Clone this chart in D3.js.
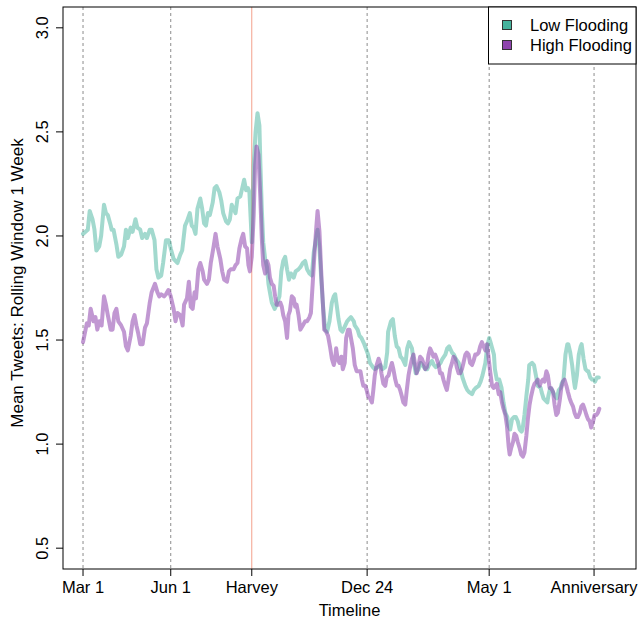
<!DOCTYPE html>
<html lang="en">
<head>
    <meta charset="UTF-8">
    <script src="https://cdn.jsdelivr.net/npm/d3@7"></script>
    <title>Mean Tweets</title>
    <style>
        body { margin: 0; background: #fff; }
        text { font-family: "Liberation Sans", Arial, sans-serif; fill: #000; }
    </style>
</head>
<body>
    <svg></svg>
    <script>
        // day index 0 = Mar 1
        const tickDays = [0, 92, 177, 298, 426, 536];
        const tickLabels = ['Mar 1', 'Jun 1', 'Harvey', 'Dec 24', 'May 1', 'Anniversary'];
        const yTicks = [0.5, 1.0, 1.5, 2.0, 2.5, 3.0];
        const seriesNames = ['Low Flooding', 'High Flooding'];
        const seriesColors = ['#45B39D', '#8E44AD'];

        const lowDays = [0,5,7,10,12,14,17,19,22,24,26,29,30,32,35,37,40,43,45,47,50,52,55,57,60,62,65,67,70,72,75,77,79,82,84,87,90,92,95,99,102,104,107,109,112,114,116,118,120,123,125,127,129,131,133,136,138,140,143,145,147,150,152,154,156,158,160,162,165,167,169,171,173,174.5,176,177,179,181,183,185,186,187.5,189,191,193,194.5,196,198,201,203,206,208,210,212,214,216,218,221,223,226,228,230.5,233,235,237.5,240,242,244.5,246,248,250,252,254,256,258.5,261,263,264.5,266,268,270,272,274,277,279,281,284,285,288,290,292,295,299,301,304,306,309,312,314,317,319,320,323,325,327,329,331,333,335,338,340,342,345,347,349,352,354,356,359,361,363,366,368,370,373,375,377,380,382,384,387,389,391,394,396,398,401,403,405,408,410,412,415,417,419,422,424,426,428,431,432,434,436.5,439,441,443,445,446,448,450,452,454,456,458,460,461,463,465,467,468,471,473,475,477,480,481,483,485,487,488,490,492,494,495,497,499,501,502,504,506,508,509,511,513,515,516,518,520,522,523,525,527,529,530,532,534,536,537,539,541];
        const lowMean = [2.01,2.03,2.12,2.08,2.03,1.93,1.95,2.00,2.15,2.11,2.10,2.05,2.03,2.03,1.96,1.90,1.91,1.95,2.03,1.99,2.04,2.02,2.08,2.04,2.03,1.99,2.01,1.99,2.03,2.03,1.98,1.84,1.80,1.81,1.87,1.98,1.98,1.94,1.89,1.87,1.91,1.93,2.05,2.07,2.11,2.05,2.04,2.01,2.13,2.18,2.13,2.06,2.05,2.11,2.10,2.16,2.23,2.24,2.21,2.17,2.11,2.07,2.06,2.08,2.15,2.13,2.11,2.18,2.19,2.23,2.27,2.22,2.23,2.21,2.07,1.97,2.34,2.50,2.59,2.53,2.35,2.13,1.97,1.89,1.85,1.77,1.73,1.68,1.65,1.67,1.71,1.83,1.88,1.90,1.84,1.79,1.82,1.80,1.83,1.84,1.85,1.87,1.88,1.84,1.82,1.81,1.92,1.99,2.03,1.94,1.78,1.65,1.55,1.54,1.59,1.68,1.71,1.72,1.67,1.60,1.55,1.54,1.56,1.59,1.60,1.61,1.59,1.57,1.55,1.52,1.51,1.48,1.43,1.39,1.37,1.36,1.37,1.38,1.36,1.37,1.44,1.54,1.59,1.60,1.52,1.47,1.46,1.42,1.41,1.38,1.46,1.49,1.46,1.39,1.34,1.36,1.39,1.38,1.36,1.36,1.38,1.40,1.38,1.37,1.38,1.39,1.41,1.43,1.46,1.47,1.44,1.43,1.41,1.39,1.36,1.32,1.28,1.26,1.25,1.24,1.26,1.27,1.28,1.30,1.33,1.39,1.47,1.51,1.48,1.43,1.36,1.31,1.31,1.27,1.20,1.15,1.13,1.09,1.07,1.12,1.13,1.13,1.11,1.07,1.06,1.07,1.14,1.23,1.31,1.38,1.39,1.38,1.33,1.28,1.27,1.25,1.22,1.21,1.20,1.23,1.27,1.26,1.24,1.23,1.22,1.26,1.27,1.29,1.31,1.43,1.48,1.48,1.44,1.38,1.30,1.27,1.33,1.43,1.47,1.48,1.41,1.36,1.35,1.35,1.32,1.31,1.31,1.30,1.32,1.32];

        const highDays = [0,4,6,8,11,13,15,17,19.5,22,24,26,29,31,33,35,37,40,43,45,47,50,52,54,56,58,60,62.5,65,67,70,72,75.5,78,80,82,85,87,89.5,92,95,97,99,102,104.5,106,109,111,113,115,117,118.5,121,123,125.5,127,130,132,134,137,139,141,144,146,148,151,153,155,158,160,162,164,166.5,168,170,172,173.5,175,177,179,180.5,182,184,186,187.5,189,191,193,194.5,196,198,200,201.5,203,205,207,208.5,210,212,214,215.5,217,219,221,222.5,224,226,228,230.5,233,235,237.5,239,241,242.7,244.5,246,248,249.7,251.5,253,255,257,259,261,263,264.5,265.5,267,269,271,272.5,274.5,276,278,279.5,281,283,285,287,289,291,292.5,294,296,297.5,299,301,303,304.5,306,308,310,311.5,313,315,317,318.5,320.5,322,324,325.5,327.5,329.2,331,332.6,334.4,336,338,339.6,341.4,343,345,346.6,348.4,350,352,353.6,355.4,357,359,360.6,362.4,364,366,367.6,369.4,371,373,374.6,376.4,378,380,381.6,383.4,385,387,388.6,390.4,392,394,395.6,397.4,399,401,402.6,404.4,406,408,409.6,411.4,413,415,416.6,418.4,420,422,423.6,425,427,429,430.6,432.4,434,436,437.6,439.4,441,443,444.6,446.4,447.5,449,451,452.6,454.4,456,458,459.6,461.4,463,465,466.6,468.4,470,472,473.6,475.4,477,479,480.6,482.4,484,486,487.6,489.4,491,493,494.6,496.4,498,500,501.6,503.4,505,507,508.6,510.4,512,514,515.6,517.4,519,521,522.6,524.4,526,528,529.6,531.4,533,535,536.6,538.4,540,541.5];
        const highMean = [1.49,1.58,1.57,1.65,1.59,1.61,1.55,1.59,1.57,1.71,1.67,1.62,1.55,1.55,1.63,1.65,1.59,1.57,1.54,1.47,1.45,1.52,1.59,1.62,1.57,1.53,1.48,1.48,1.56,1.58,1.68,1.73,1.77,1.73,1.71,1.72,1.71,1.72,1.74,1.71,1.65,1.59,1.63,1.62,1.57,1.67,1.70,1.78,1.66,1.65,1.73,1.70,1.84,1.87,1.83,1.79,1.77,1.79,1.87,1.95,2.01,1.95,1.89,1.83,1.79,1.78,1.83,1.84,1.84,1.86,1.87,1.94,1.99,2.01,1.95,1.94,1.86,1.83,1.90,2.10,2.34,2.43,2.39,2.18,1.99,1.86,1.82,1.88,1.86,1.80,1.77,1.76,1.71,1.67,1.67,1.68,1.66,1.62,1.59,1.51,1.62,1.64,1.71,1.70,1.66,1.67,1.62,1.55,1.57,1.59,1.59,1.61,1.63,1.78,1.91,2.03,2.12,2.02,1.84,1.68,1.55,1.54,1.52,1.47,1.41,1.38,1.41,1.46,1.41,1.39,1.42,1.36,1.39,1.51,1.55,1.55,1.51,1.46,1.38,1.35,1.35,1.35,1.31,1.28,1.28,1.26,1.23,1.22,1.20,1.26,1.33,1.38,1.41,1.39,1.34,1.29,1.28,1.32,1.33,1.36,1.39,1.36,1.31,1.28,1.28,1.26,1.23,1.20,1.19,1.26,1.33,1.37,1.41,1.43,1.38,1.34,1.38,1.42,1.41,1.39,1.36,1.37,1.43,1.46,1.44,1.42,1.43,1.41,1.38,1.34,1.34,1.31,1.28,1.26,1.31,1.36,1.39,1.42,1.41,1.37,1.34,1.34,1.36,1.39,1.43,1.44,1.43,1.39,1.38,1.40,1.43,1.43,1.44,1.47,1.49,1.47,1.45,1.48,1.43,1.35,1.28,1.27,1.28,1.29,1.24,1.25,1.20,1.17,1.14,1.09,0.99,0.95,0.98,1.01,1.05,1.04,1.01,0.98,0.95,0.94,0.96,1.04,1.12,1.19,1.23,1.27,1.29,1.30,1.31,1.28,1.30,1.31,1.30,1.35,1.33,1.27,1.27,1.25,1.19,1.14,1.15,1.21,1.27,1.30,1.31,1.28,1.25,1.22,1.20,1.18,1.15,1.13,1.13,1.15,1.18,1.19,1.17,1.14,1.12,1.11,1.08,1.11,1.14,1.14,1.15,1.17];

        const W = 639, H = 620;
        const box = { left: 63, right: 636, top: 7, bottom: 569 };
        const font = '16.5px';

        let svg = d3.select('svg')
            .attr('width', W)
            .attr('height', H);

        svg.append('rect').attr('width', W).attr('height', H).attr('fill', '#fff');

        const x = d3.scaleLinear().domain([-21, 580]).range([box.left, box.right]);
        const y = d3.scaleLinear().domain([0.4, 3.1]).range([box.bottom, box.top]);

        // vertical reference lines
        svg.append('g')
            .selectAll('line')
            .data(tickDays)
            .enter()
            .append('line')
            .attr('x1', d => x(d)).attr('x2', d => x(d))
            .attr('y1', box.top).attr('y2', box.bottom)
            .attr('stroke', (d, i) => tickLabels[i] === 'Harvey' ? '#f3a08c' : '#8c8c8c')
            .attr('stroke-width', 1)
            .attr('stroke-dasharray', (d, i) => tickLabels[i] === 'Harvey' ? null : '3,3');

        // series
        const line = d3.line()
            .x(d => x(d[0]))
            .y(d => y(d[1]));

        const series = [d3.zip(lowDays, lowMean), d3.zip(highDays, highMean)];

        svg.append('g')
            .selectAll('path')
            .data(series)
            .enter()
            .append('path')
            .attr('d', d => line(d))
            .attr('fill', 'none')
            .attr('stroke', (d, i) => seriesColors[i])
            .attr('stroke-opacity', (d, i) => i === 0 ? 0.5 : 0.55)
            .attr('stroke-width', 4)
            .attr('stroke-linejoin', 'round')
            .attr('stroke-linecap', 'round');

        // box
        svg.append('rect')
            .attr('x', box.left).attr('y', box.top)
            .attr('width', box.right - box.left).attr('height', box.bottom - box.top)
            .attr('fill', 'none').attr('stroke', '#000').attr('stroke-width', 1);

        // x axis
        let gx = svg.append('g');
        gx.selectAll('line')
            .data(tickDays)
            .enter()
            .append('line')
            .attr('x1', d => x(d)).attr('x2', d => x(d))
            .attr('y1', box.bottom).attr('y2', box.bottom + 7)
            .attr('stroke', '#000');
        gx.selectAll('text')
            .data(tickDays)
            .enter()
            .append('text')
            .attr('x', d => x(d))
            .attr('y', 593)
            .attr('text-anchor', 'middle')
            .style('font-size', font)
            .text((d, i) => tickLabels[i]);

        // y axis
        let gy = svg.append('g');
        gy.selectAll('line')
            .data(yTicks)
            .enter()
            .append('line')
            .attr('x1', box.left - 7).attr('x2', box.left)
            .attr('y1', d => y(d)).attr('y2', d => y(d))
            .attr('stroke', '#000');
        gy.selectAll('text')
            .data(yTicks)
            .enter()
            .append('text')
            .attr('transform', d => `translate(48,${y(d)}) rotate(-90)`)
            .attr('text-anchor', 'middle')
            .style('font-size', font)
            .text(d => d3.format('.1f')(d));

        svg.append('text')
            .attr('x', (box.left + box.right) / 2)
            .attr('y', 616)
            .attr('text-anchor', 'middle')
            .style('font-size', font)
            .text('Timeline');

        svg.append('text')
            .attr('transform', `translate(23,283) rotate(-90)`)
            .attr('text-anchor', 'middle')
            .style('font-size', '17px')
            .text('Mean Tweets: Rolling Window 1 Week');

        // legend
        let lg = svg.append('g');
        lg.append('rect')
            .attr('x', 488.5).attr('y', box.top)
            .attr('width', box.right - 488.5).attr('height', 57)
            .attr('fill', '#fff').attr('stroke', '#000');
        seriesNames.forEach(function(name, i) {
            let cy = 25 + i * 20;
            lg.append('rect')
                .attr('x', 502.5).attr('y', cy - 4.5)
                .attr('width', 9).attr('height', 9)
                .attr('fill', seriesColors[i])
                .attr('stroke', '#333');
            lg.append('text')
                .attr('x', 530)
                .attr('y', cy + 6)
                .style('font-size', font)
                .text(name);
        });
    </script>
</body>
</html>
